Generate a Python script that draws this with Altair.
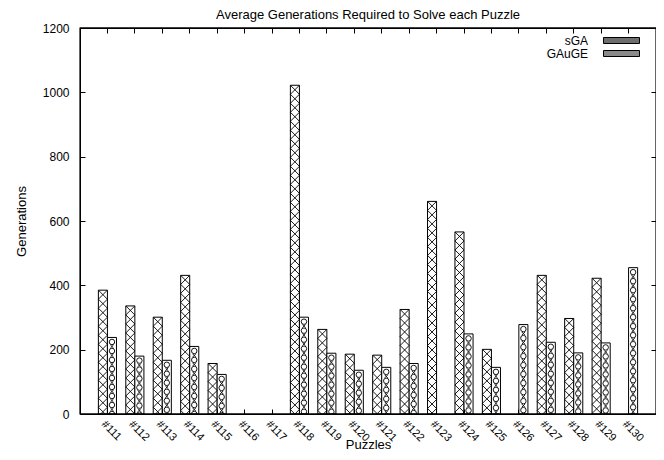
import altair as alt
import pandas as pd

puzzles = ["#111", "#112", "#113", "#114", "#115", "#116", "#117", "#118", "#119", "#120",
           "#121", "#122", "#123", "#124", "#125", "#126", "#127", "#128", "#129", "#130"]
sga_values = [385, 336, 301, 431, 157, None, None, 1022, 263, 186,
              183, 325, 661, 566, 201, None, 431, 297, 422, None]
gauge_values = [238, 180, 167, 210, 123, None, None, 301, 189, 136,
                145, 157, None, 249, 145, 278, 223, 190, 221, 455]
series_names = ["sGA", "GAuGE"]
y_ticks = [0, 200, 400, 600, 800, 1000, 1200]
y_limits = [0, 1200]

rows = []
for p, a, g in zip(puzzles, sga_values, gauge_values):
    if a is not None:
        rows.append({"puzzle": p, "series": "sGA", "value": a})
    if g is not None:
        rows.append({"puzzle": p, "series": "GAuGE", "value": g})
df = pd.DataFrame(rows)
legend_df = pd.DataFrame({"series": series_names})
limits_df = pd.DataFrame({"yv": y_limits})

FONT = "Liberation Sans"
INWARD = {"expr": "-5"}

x_scale = alt.Scale(domain=puzzles, paddingInner=0.34, paddingOuter=0.67)
off_scale = alt.Scale(domain=series_names)
y_scale = alt.Scale(domain=y_limits, nice=False)

common = dict(domain=True, domainColor="black", domainWidth=1, grid=False,
              tickSize=INWARD, tickColor="black", tickWidth=1, zindex=2)

x_bottom = alt.Axis(orient="bottom", **common,
                    labelAngle=45, labelAlign="left", labelBaseline="top",
                    labelPadding=9, labelFont=FONT, labelFontSize=11, labelColor="black",
                    title="Puzzles", titleFont=FONT, titleFontSize=13, titleFontWeight="normal",
                    titleColor="black", titleBaseline="bottom", titleY=37)
x_top = alt.Axis(orient="top", **common, labels=False, title=None)
y_left = alt.Axis(orient="left", **common, values=y_ticks,
                  format="d", labelPadding=16, labelFont=FONT,
                  labelFontSize=12, labelColor="black", title="Generations", titleFont=FONT,
                  titleFontSize=13, titleFontWeight="normal", titleColor="black",
                  titlePadding=14)
y_right = alt.Axis(orient="right", **common, values=y_ticks, labels=False, title=None)

legend = alt.Legend(
    title=None, orient="none", legendX=535, legendY=6,
    symbolType="M-3,-0.5H3V0.5H-3Z", symbolSize=144,
    symbolStrokeColor="black", symbolStrokeWidth=1, symbolOpacity=1,
    labelAlign="right", labelOffset={"expr": "-40"}, labelFont=FONT, labelFontSize=12,
    labelColor="black", rowPadding=0,
)

bars = alt.Chart(df).mark_bar(stroke="black", strokeWidth=1, fill="white").encode(
    x=alt.X("puzzle:N", scale=x_scale, axis=x_bottom, sort=puzzles),
    xOffset=alt.XOffset("series:N", scale=off_scale, sort=series_names),
    y=alt.Y("value:Q", scale=y_scale, axis=y_left),
)

legend_layer = alt.Chart(legend_df).transform_filter("false").mark_bar(
    stroke="black", strokeWidth=1
).encode(
    x=alt.X("series:N", scale=x_scale, axis=None),
    y=alt.Y("series:N", axis=None),
    fill=alt.Fill("series:N", scale=alt.Scale(domain=series_names, range=["#6e6e6e", "#8a8a8a"]),
                  legend=legend),
)

XPATH = "M-1,-1L1,1M-1,1L1,-1"

sga_pattern = alt.Chart(df).transform_filter("datum.series === 'sGA'").transform_calculate(
    pos="sequence(datum.value - 14, -14, -28)"
).transform_flatten(["pos"]).mark_point(
    shape=XPATH, size=81, filled=False, stroke="black", strokeWidth=0.9, opacity=1, clip=True
).encode(
    x=alt.X("puzzle:N", scale=x_scale, axis=x_top, sort=puzzles),
    xOffset=alt.XOffset("series:N", scale=off_scale, sort=series_names),
    y=alt.Y("pos:Q", scale=y_scale, axis=y_right),
)

gauge_circles = alt.Chart(df).transform_filter("datum.series === 'GAuGE'").transform_calculate(
    pos="sequence(datum.value - 14, -14, -28)"
).transform_flatten(["pos"]).mark_point(
    shape="circle", size=30, filled=False, stroke="black", strokeWidth=0.9, opacity=1, clip=True
).encode(
    x=alt.X("puzzle:N", scale=x_scale, axis=None, sort=puzzles),
    xOffset=alt.XOffset("series:N", scale=off_scale, sort=series_names),
    y=alt.Y("pos:Q", scale=y_scale, axis=None),
)

gauge_dots = alt.Chart(df).transform_filter("datum.series === 'GAuGE'").transform_calculate(
    pos="sequence(datum.value - 28, -14, -28)"
).transform_flatten(["pos"]).mark_point(
    shape=XPATH, size=10, filled=False, stroke="black", strokeWidth=0.9, opacity=1, clip=True
).encode(
    x=alt.X("puzzle:N", scale=x_scale, axis=None, sort=puzzles),
    xOffset=alt.XOffset("series:N", scale=off_scale, sort=series_names),
    y=alt.Y("pos:Q", scale=y_scale, axis=None),
)

frame_h = alt.Chart(limits_df).mark_rule(color="black", strokeWidth=1).encode(
    y=alt.Y("yv:Q", scale=y_scale, axis=None),
)
frame_box = alt.Chart(limits_df.head(1)).mark_rect(
    fill="white", fillOpacity=0, stroke="black", strokeWidth=1.2, strokeOpacity=1
).encode(
    x=alt.value(0), x2=alt.value("width"), y=alt.value(0), y2=alt.value("height"),
)

chart = alt.layer(bars, sga_pattern, gauge_circles, gauge_dots, frame_h).resolve_axis(
    x="independent", y="independent"
)
chart = alt.layer(chart, legend_layer, frame_box).resolve_scale(
    y="independent"
).properties(
    width=576, height=386,
    autosize=alt.AutoSizeParams(type="none"),
    padding={"left": 72, "top": 20, "right": 0, "bottom": 38},
    background="white",
    title=alt.TitleParams("Average Generations Required to Solve each Puzzle", font=FONT,
                          fontSize=13, fontWeight="normal", color="black", anchor="middle",
                          offset=0),
).configure_view(stroke="black", strokeWidth=1)

chart.save("out.html", embed_options={"renderer": "svg", "actions": False})
